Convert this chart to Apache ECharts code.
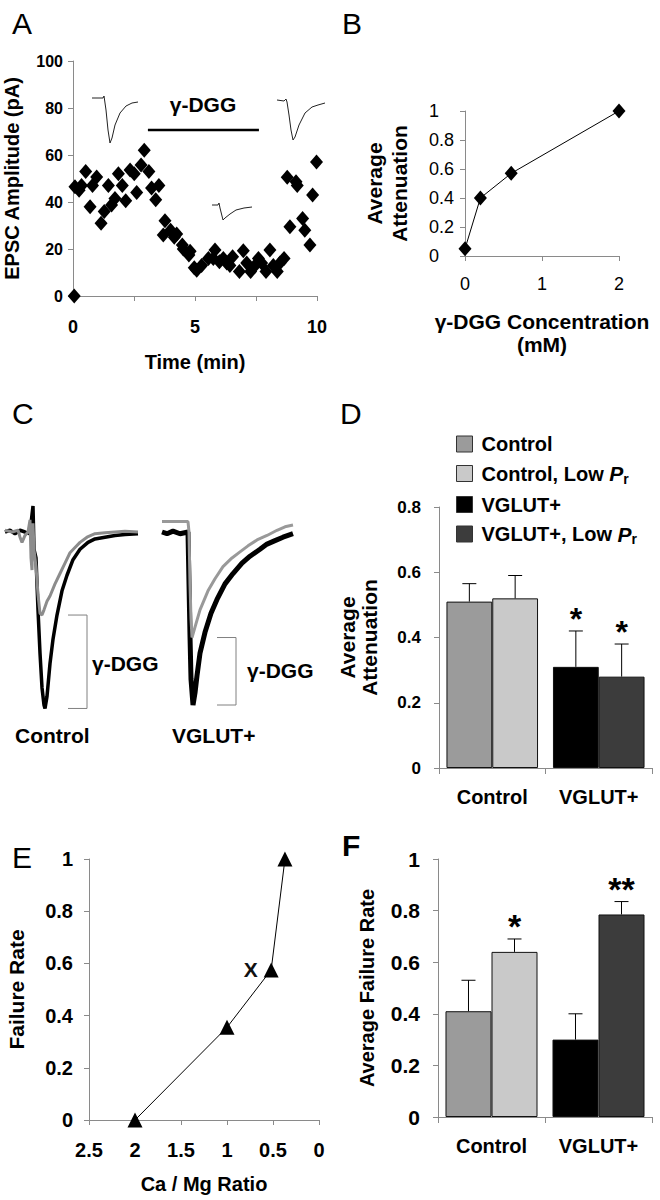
<!DOCTYPE html>
<html>
<head>
<meta charset="utf-8">
<script src="https://cdn.jsdelivr.net/npm/echarts@6/dist/echarts.min.js"></script>
<style>
html,body{margin:0;padding:0;background:#fff;}
#c{width:660px;height:1200px;}
</style>
</head>
<body>
<div id="c"></div>
<script>
// ---------------- DATA ----------------
// Panel A: EPSC amplitude time course
const A_TIME = [0.05,0.08,0.25,0.35,0.52,0.7,0.8,0.97,1.15,1.28,1.45,1.58,1.72,1.86,2.02,2.16,2.34,2.51,2.61,2.79,2.92,3.11,3.22,3.39,3.52,3.7,3.77,4.0,4.15,4.25,4.48,4.52,4.75,4.8,4.97,
  5.07,5.27,5.55,5.75,5.82,6.0,6.16,6.3,6.43,6.54,6.82,6.98,7.12,7.28,7.46,7.6,7.73,7.91,8.07,8.21,8.37,8.48,8.65,
  8.78,8.89,9.14,9.19,9.41,9.5,9.71,9.82,9.98];
const A_EPSC = [0,46.5,45,47,53,38,47,50.6,31,36,47,38.7,41.5,52,47,40.5,53.6,52,44,55.7,62,53,46,41,47,26,32,28,25,26.4,21.7,20,17.5,19,12,
  11,13,16,16,19.6,14.6,16,14,13,16.7,10.4,19.3,14,10.4,13,16,14,10.4,19.6,13,10.4,14,16,
  50.5,29.5,48.6,47,33,28,21.7,43,57];
const A_DGG_TIME = [3.07, 7.62];     // gamma-DGG application (min)
const A_DGG_LEVEL = [70.6, 70.6];
// inset traces in A (time ms, current pA)
const TR_BEFORE = [[0,0],[11,0],[12,2],[14,-12],[16,-32],[18,-45],[20,-40],[23,-27],[28,-15],[34,-8],[40,-5],[46,-4]];
const TR_DURING = [[0,0],[6,0],[7,2],[8,-3],[10,-11],[11,-15],[13,-13],[18,-9],[24,-5],[32,-3],[40,-2]];
const TR_AFTER  = [[0,0],[7,-1],[9,1],[10,-2],[12,-15],[14,-30],[16,-40],[18,-37],[22,-25],[28,-13],[35,-7],[41,-5],[48,-3]];

// Panel B: dose response
const B_CONC = [0, 0.2, 0.6, 2];
const B_ATT  = [0.05, 0.4, 0.57, 1.0];

// Panel C: normalized EPSC traces (t, normalized amplitude)
const C_CTRL_BLACK = [[5,0],[10,0.01],[15,-0.01],[20,0.01],[25,0],[29,-0.01],[31,0.05],[33,0.15],[34,-0.1],[36,-0.15],[38,-0.45],[40,-0.7],[42,-0.9],[44,-1.0],[45,-1.02],[47,-0.95],[50,-0.76],[53,-0.62],[57,-0.48],[62,-0.34],[67,-0.25],[73,-0.16],[80,-0.1],[88,-0.06],[95,-0.04],[105,-0.03],[115,-0.02],[125,-0.015],[138,-0.01]];
const C_CTRL_GRAY = [[5,0.01],[12,0],[18,0.01],[20,-0.03],[22,-0.06],[25,-0.02],[28,0],[30,0.07],[31,-0.15],[32,-0.22],[33,0.05],[34,-0.1],[36,-0.2],[38,-0.36],[40,-0.47],[42,-0.48],[44,-0.45],[47,-0.4],[50,-0.37],[55,-0.3],[60,-0.24],[65,-0.18],[70,-0.12],[75,-0.09],[80,-0.06],[87,-0.03],[95,-0.01],[105,-0.005],[115,0],[125,0.005],[138,0]];
const C_VG_BLACK = [[7,0],[12,-0.01],[18,0.005],[25,-0.01],[33,0],[34,-0.3],[35,-0.6],[36,-0.85],[38,-1.0],[40,-0.93],[42,-0.83],[45,-0.7],[50,-0.58],[56,-0.47],[62,-0.39],[70,-0.3],[78,-0.24],[87,-0.18],[95,-0.14],[105,-0.1],[112,-0.07],[120,-0.05],[128,-0.03],[138,-0.01]];
const C_VG_GRAY = [[7,0.06],[15,0.06],[25,0.06],[33,0.06],[34,0],[35,-0.3],[36,-0.5],[37,-0.61],[40,-0.55],[45,-0.45],[53,-0.34],[60,-0.27],[68,-0.2],[77,-0.15],[85,-0.115],[93,-0.08],[102,-0.046],[112,-0.02],[122,0.01],[130,0.03],[138,0.04]];
const C_BRACKET_T = [[68,87],[62,81]];

// Panels D & F: grouped bars
const GROUPS = ['Control', 'VGLUT+'];
const SERIES_NAMES = ['Control', 'Control, Low Pr', 'VGLUT+', 'VGLUT+, Low Pr'];
const D_STD = [0.51, 0.31], D_STD_ERR = [0.055, 0.11], D_STD_STAR = ['', '*'];
const D_LOW = [0.52, 0.28], D_LOW_ERR = [0.07, 0.10], D_LOW_STAR = ['', '*'];
const F_STD = [0.41, 0.30], F_STD_ERR = [0.12, 0.10], F_STD_STAR = ['', ''];
const F_LOW = [0.64, 0.785], F_LOW_ERR = [0.05, 0.05], F_LOW_STAR = ['*', '**'];

// Panel E
const E_RATIO = [2, 1, 0.52, 0.37];
const E_FAIL  = [0, 0.355, 0.575, 1.0];
const E_LABELS = ['', '', 'X', ''];

// ---------------- STYLE ----------------
const FONT = '"Liberation Sans", Arial, Helvetica, sans-serif';
const AX = '#8a8a8a';
const COLORS = ['#9b9b9b', '#c9c9c9', '#000000', '#3c3c3c'];
const BAR_FRAC = 0.43;

function valAxis(o) {
  const a = {
    type: 'value', gridIndex: o.grid, min: o.min, max: o.max, interval: o.interval,
    inverse: !!o.inverse,
    axisLine: {show: true, onZero: false, lineStyle: {color: AX, width: 1}},
    axisTick: {show: true, length: 5, lineStyle: {color: AX}},
    splitLine: {show: false},
    axisLabel: {color: '#000', fontFamily: FONT, fontWeight: o.lw || 'bold', fontSize: o.fs || 17, margin: o.margin || 12,
      formatter: o.fmt, align: o.align},
    name: o.name, nameLocation: 'middle', nameGap: o.nameGap,
    nameTextStyle: {color: '#000', fontFamily: FONT, fontWeight: 'bold', fontSize: o.nfs || 20, lineHeight: o.nlh || 22}
  };
  return a;
}
function hiddenAxis(grid, min, max) {
  return {type: 'value', gridIndex: grid, min: min, max: max, show: false, splitLine: {show: false}};
}
function catAxis(grid, fs) {
  return {
    type: 'category', gridIndex: grid, data: GROUPS, boundaryGap: true,
    axisLine: {show: true, lineStyle: {color: AX}},
    axisTick: {show: true, length: 6, lineStyle: {color: AX}},
    axisLabel: {color: '#000', fontFamily: FONT, fontWeight: 'bold', fontSize: fs, margin: 19}
  };
}

const grids = [
  {left: 73, top: 61, width: 244, height: 235},        // 0 A
  {left: 92, top: 90, width: 46, height: 60},          // 1 A inset before
  {left: 212, top: 197, width: 40, height: 60},        // 2 A inset during
  {left: 277, top: 92, width: 48, height: 60},         // 3 A inset after
  {left: 465, top: 111, width: 154, height: 145},      // 4 B
  {left: 0, top: 497.4, width: 140, height: 224.9},    // 5 C left
  {left: 155, top: 497.4, width: 145, height: 224.9},  // 6 C right
  {left: 439, top: 507, width: 213, height: 261},      // 7 D
  {left: 89, top: 859, width: 230, height: 261},       // 8 E
  {left: 438, top: 859, width: 214, height: 258}       // 9 F
].map(g => Object.assign({containLabel: false, outerBoundsMode: 'none'}, g));

const xAxes = [
  valAxis({grid: 0, min: 0, max: 10, interval: 2.5, fs: 18, margin: 22,
    fmt: v => (v % 5 === 0 ? String(v) : ''), name: 'Time (min)', nameGap: 55}),
  hiddenAxis(1, 0, 46), hiddenAxis(2, 0, 40), hiddenAxis(3, 0, 48),
  valAxis({grid: 4, min: 0, max: 2, interval: 1, fs: 18, lw: 'normal', margin: 19,
    name: 'γ-DGG Concentration\n(mM)', nameGap: 54, nlh: 23, nfs: 21}),
  hiddenAxis(5, 0, 140), hiddenAxis(6, 0, 145),
  catAxis(7, 20),
  valAxis({grid: 8, min: 0, max: 2.5, interval: 0.5, inverse: true, fs: 20, margin: 20,
    name: 'Ca / Mg Ratio', nameGap: 53}),
  catAxis(9, 20)
];
const yAxes = [
  valAxis({grid: 0, min: 0, max: 100, interval: 20, fs: 16, margin: 10, name: 'EPSC Amplitude (pA)', nameGap: 50}),
  hiddenAxis(1, -52, 8), hiddenAxis(2, -52, 8), hiddenAxis(3, -52, 8),
  valAxis({grid: 4, min: 0, max: 1, interval: 0.2, fs: 18, lw: 'normal', margin: 36, align: 'left',
    name: 'Average\nAttenuation', nameGap: 53, nlh: 25, nfs: 21}),
  hiddenAxis(5, -1.1, 0.2), hiddenAxis(6, -1.1, 0.2),
  valAxis({grid: 7, min: 0, max: 0.8, interval: 0.2, fs: 17, margin: 18,
    name: 'Average\nAttenuation', nameGap: 59, nlh: 22, nfs: 21}),
  valAxis({grid: 8, min: 0, max: 1, interval: 0.2, fs: 20, margin: 16, name: 'Failure Rate', nameGap: 62, nfs: 21}),
  valAxis({grid: 9, min: 0, max: 1, interval: 0.2, fs: 21, margin: 18, name: 'Average Failure Rate', nameGap: 60})
];

function zip(a, b) { return a.map((v, i) => [v, b[i]]); }
function lineS(grid, data, color, width, z) {
  return {type: 'line', xAxisIndex: grid, yAxisIndex: grid, data: data, showSymbol: false, symbol: 'none',
    lineStyle: {color: color, width: width}, itemStyle: {color: color}, silent: true, z: z || 2, animation: false};
}
function bracket(grid, t, blackTrace, grayTrace) {
  const lo = Math.min(...blackTrace.map(p => p[1]));
  const hi = Math.min(...grayTrace.map(p => p[1]));
  return lineS(grid, [[t[0], hi], [t[1], hi], [t[1], lo], [t[0], lo]], '#808080', 1, 1);
}

function barSeries(grid, std, low) {
  const vals = [[std[0], '-'], [low[0], '-'], ['-', std[1]], ['-', low[1]]];
  return SERIES_NAMES.map((n, i) => ({
    type: 'bar', name: n, xAxisIndex: grid, yAxisIndex: grid, stack: 'g' + grid + (i % 2),
    data: vals[i], barWidth: (BAR_FRAC * 100) + '%', barGap: '0%',
    itemStyle: {color: COLORS[i], borderColor: '#111', borderWidth: 1}, animation: false
  }));
}
function errSeries(grid, std, stdErr, stdStar, low, lowErr, lowStar, starSize) {
  const data = [[0, std[0], stdErr[0], -1], [1, std[1], stdErr[1], -1], [0, low[0], lowErr[0], 1], [1, low[1], lowErr[1], 1]];
  const stars = [stdStar[0], stdStar[1], lowStar[0], lowStar[1]];
  return {
    type: 'custom', xAxisIndex: grid, yAxisIndex: grid, data: data, z: 5, silent: true, animation: false,
    renderItem: function (params, api) {
      const cat = api.value(0), m = api.value(1), e = api.value(2), side = api.value(3);
      const band = api.size([1, 0])[0];
      const p0 = api.coord([cat, m]), p1 = api.coord([cat, m + e]);
      const x = p0[0] + side * band * BAR_FRAC / 2;
      const ls = {stroke: '#000', lineWidth: 1};
      const ch = [
        {type: 'line', shape: {x1: x, y1: p0[1], x2: x, y2: p1[1]}, style: ls},
        {type: 'line', shape: {x1: x - 7, y1: p1[1], x2: x + 7, y2: p1[1]}, style: ls}
      ];
      const s = stars[params.dataIndex];
      if (s) ch.push({type: 'text', x: x, y: p1[1] + 4, style: {text: s, align: 'center', verticalAlign: 'bottom',
        fontSize: starSize, fontWeight: 'bold', fontFamily: FONT, fill: '#000'}});
      return {type: 'group', children: ch};
    }
  };
}

const series = [
  {type: 'scatter', xAxisIndex: 0, yAxisIndex: 0, data: zip(A_TIME, A_EPSC), symbol: 'diamond', symbolSize: [13, 15],
    itemStyle: {color: '#000', opacity: 1}, animation: false},
  lineS(0, zip(A_DGG_TIME, A_DGG_LEVEL), '#000', 2.5),
  lineS(1, TR_BEFORE, '#222', 1), lineS(2, TR_DURING, '#222', 1), lineS(3, TR_AFTER, '#222', 1),
  {type: 'line', xAxisIndex: 4, yAxisIndex: 4, data: zip(B_CONC, B_ATT), symbol: 'diamond', symbolSize: [13, 15],
    lineStyle: {color: '#000', width: 1}, itemStyle: {color: '#000'}, animation: false},
  lineS(5, C_CTRL_BLACK, '#000', 3.5, 2), lineS(5, C_CTRL_GRAY, '#8c8c8c', 3, 3), bracket(5, C_BRACKET_T[0], C_CTRL_BLACK, C_CTRL_GRAY),
  lineS(6, C_VG_BLACK, '#000', 5, 2), lineS(6, C_VG_GRAY, '#999999', 3, 3), bracket(6, C_BRACKET_T[1], C_VG_BLACK, C_VG_GRAY),
  ...barSeries(7, D_STD, D_LOW),
  errSeries(7, D_STD, D_STD_ERR, D_STD_STAR, D_LOW, D_LOW_ERR, D_LOW_STAR, 32),
  {type: 'line', xAxisIndex: 8, yAxisIndex: 8, data: zip(E_RATIO, E_FAIL), symbol: 'triangle', symbolSize: 15,
    lineStyle: {color: '#000', width: 1}, itemStyle: {color: '#000'}, animation: false,
    label: {show: true, position: 'left', distance: 6, formatter: p => E_LABELS[p.dataIndex],
      fontFamily: FONT, fontWeight: 'bold', fontSize: 21, color: '#111'}},
  ...barSeries(9, F_STD, F_LOW),
  errSeries(9, F_STD, F_STD_ERR, F_STD_STAR, F_LOW, F_LOW_ERR, F_LOW_STAR, 34)
];

function txt(x, y, s, size, weight, align, va) {
  return {type: 'text', x: x, y: y, silent: true,
    style: {text: s, fontFamily: FONT, fontSize: size, fontWeight: weight || 'normal', fill: '#000',
      align: align || 'left', verticalAlign: va || 'middle'}};
}
const graphics = [
  txt(12, 23, 'A', 30), txt(342, 23, 'B', 30), txt(12, 413, 'C', 30), txt(340, 413, 'D', 30), txt(12, 857, 'E', 30),
  txt(342, 845, 'F', 30, 'bold'),
  txt(203, 104, 'γ-DGG', 21, 'bold', 'center'),
  txt(92, 663, 'γ-DGG', 21, 'bold'), txt(247, 670, 'γ-DGG', 21, 'bold'),
  txt(15, 735, 'Control', 21, 'bold'), txt(172, 735, 'VGLUT+', 21, 'bold')
];

const chart = echarts.init(document.getElementById('c'), null, {renderer: 'svg'});
chart.setOption({
  animation: false,
  backgroundColor: '#fff',
  grid: grids, xAxis: xAxes, yAxis: yAxes, series: series, graphic: graphics,
  legend: {
    data: SERIES_NAMES, orient: 'vertical', left: 451, top: 429, itemWidth: 16, itemHeight: 16, itemGap: 9,
    icon: 'rect', selectedMode: false,
    itemStyle: {borderColor: '#333', borderWidth: 1},
    formatter: function (n) {
      if (n.endsWith('Low Pr')) return '{n|' + n.slice(0, -2) + '}{i|P}{s|r}';
      return '{n|' + n + '}';
    },
    textStyle: {color: '#000', fontFamily: FONT, fontWeight: 'bold', fontSize: 20, padding: [0, 0, 0, 4],
      rich: {
        n: {fontFamily: FONT, fontWeight: 'bold', fontSize: 20, color: '#000'},
        i: {fontFamily: FONT, fontWeight: 'bold', fontStyle: 'italic', fontSize: 21, color: '#000'},
        s: {fontFamily: FONT, fontWeight: 'bold', fontSize: 14, color: '#000', padding: [10, 0, 0, 0]}
      }}
  }
});
</script>
</body>
</html>
